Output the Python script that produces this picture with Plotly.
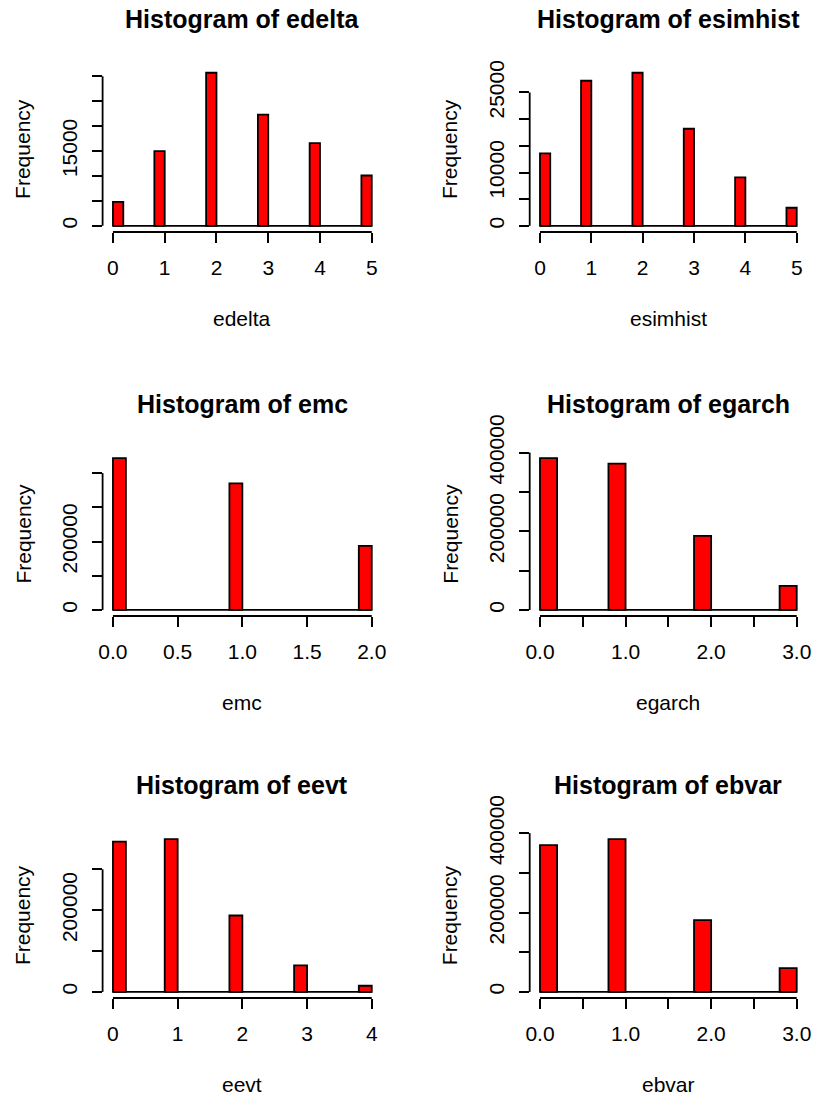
import numpy as np
import plotly.graph_objects as go

# ---- data: counts per observed value (one array per variable) ----
edelta_counts = [48000, 150000, 307000, 223000, 166000, 101000]
esimhist_counts = [136000, 272000, 287000, 182000, 91000, 34000]
emc_counts = [444000, 370000, 187000]
egarch_counts = [386000, 372000, 188000, 61000]
eevt_counts = [368000, 374000, 187000, 65000, 15000]
ebvar_counts = [370000, 385000, 181000, 60000]

# histogram bin widths
edelta_binwidth = 0.2
esimhist_binwidth = 0.2
emc_binwidth = 0.1
egarch_binwidth = 0.2
eevt_binwidth = 0.2
ebvar_binwidth = 0.2

# tick values and labels
edelta_xticks = [0, 1, 2, 3, 4, 5]
edelta_xlabels = ["0", "1", "2", "3", "4", "5"]
edelta_yticks = [0, 50000, 100000, 150000, 200000, 250000, 300000]
edelta_ylabels = ["0", "", "", "15000", "", "", ""]

esimhist_xticks = [0, 1, 2, 3, 4, 5]
esimhist_xlabels = ["0", "1", "2", "3", "4", "5"]
esimhist_yticks = [0, 50000, 100000, 150000, 200000, 250000]
esimhist_ylabels = ["0", "", "10000", "", "", "25000"]

emc_xticks = [0, 0.5, 1, 1.5, 2]
emc_xlabels = ["0.0", "0.5", "1.0", "1.5", "2.0"]
emc_yticks = [0, 100000, 200000, 300000, 400000]
emc_ylabels = ["0", "", "200000", "", ""]

egarch_xticks = [0, 0.5, 1, 1.5, 2, 2.5, 3]
egarch_xlabels = ["0.0", "", "1.0", "", "2.0", "", "3.0"]
egarch_yticks = [0, 100000, 200000, 300000, 400000]
egarch_ylabels = ["0", "", "200000", "", "400000"]

eevt_xticks = [0, 1, 2, 3, 4]
eevt_xlabels = ["0", "1", "2", "3", "4"]
eevt_yticks = [0, 100000, 200000, 300000]
eevt_ylabels = ["0", "", "200000", ""]

ebvar_xticks = [0, 0.5, 1, 1.5, 2, 2.5, 3]
ebvar_xlabels = ["0.0", "", "1.0", "", "2.0", "", "3.0"]
ebvar_yticks = [0, 100000, 200000, 300000, 400000]
ebvar_ylabels = ["0", "", "200000", "", "400000"]

panels = [
    ("edelta", edelta_counts, edelta_binwidth, edelta_xticks, edelta_xlabels, edelta_yticks, edelta_ylabels),
    ("esimhist", esimhist_counts, esimhist_binwidth, esimhist_xticks, esimhist_xlabels, esimhist_yticks, esimhist_ylabels),
    ("emc", emc_counts, emc_binwidth, emc_xticks, emc_xlabels, emc_yticks, emc_ylabels),
    ("egarch", egarch_counts, egarch_binwidth, egarch_xticks, egarch_xlabels, egarch_yticks, egarch_ylabels),
    ("eevt", eevt_counts, eevt_binwidth, eevt_xticks, eevt_xlabels, eevt_yticks, eevt_ylabels),
    ("ebvar", ebvar_counts, ebvar_binwidth, ebvar_xticks, ebvar_xlabels, ebvar_yticks, ebvar_ylabels),
]

# ---- layout geometry (pixels) ----
W, H = 813, 1097
col_px = [(102.6, 382.1), (529.7, 807.0)]
row_px = [(66.6, 232.0), (452.0, 616.0), (833.0, 998.0)]
FONT = "Liberation Sans, Arial, sans-serif"
RED = "#FF0000"
LW = 1.8


def px_x(p):
    return p / W


def px_y(p):
    return 1 - p / H


fig = go.Figure()
layout = dict(
    width=W, height=H,
    margin=dict(l=0, r=0, t=0, b=0, pad=0, autoexpand=False),
    paper_bgcolor="white", plot_bgcolor="white",
    showlegend=False,
    font=dict(family=FONT, color="black"),
)
shapes = []
annotations = []

for i, (name, counts, bw, xt, xl, yt, yl) in enumerate(panels):
    r, c = divmod(i, 2)
    xa = "xaxis" if i == 0 else f"xaxis{i + 1}"
    ya = "yaxis" if i == 0 else f"yaxis{i + 1}"
    xr = "x" if i == 0 else f"x{i + 1}"
    yr = "y" if i == 0 else f"y{i + 1}"

    counts = np.asarray(counts, dtype=float)
    values = np.arange(len(counts))
    # right-closed bins: value k falls in (k - bw, k], value 0 in [0, bw]
    left = np.where(values == 0, 0.0, values - bw)
    centers = left + bw / 2
    breaks_lo, breaks_hi = 0.0, float(values[-1])

    # baseline formed by the empty bins
    fig.add_trace(go.Scatter(
        x=[breaks_lo, breaks_hi], y=[0, 0], mode="lines",
        line=dict(color="black", width=LW), hoverinfo="skip",
        xaxis=xr, yaxis=yr,
    ))
    fig.add_trace(go.Bar(
        x=centers, y=counts, width=bw,
        marker=dict(color=RED, line=dict(color="black", width=LW)),
        xaxis=xr, yaxis=yr,
    ))

    xspan = breaks_hi - breaks_lo
    ymax = counts.max()
    x0p, x1p = col_px[c]
    y0p, y1p = row_px[r]

    layout[xa] = dict(
        domain=[px_x(x0p), px_x(x1p)], anchor=yr,
        range=[breaks_lo - 0.04 * xspan, breaks_hi + 0.04 * xspan],
        tickvals=xt, ticktext=xl,
        ticks="outside", ticklen=10, tickwidth=LW, tickcolor="black",
        showline=False, showgrid=False, zeroline=False, automargin=False,
        tickfont=dict(size=21, family=FONT, color="black"),
        ticklabelstandoff=7,
    )
    layout[ya] = dict(
        domain=[px_y(y1p), px_y(y0p)], anchor=xr,
        range=[-0.04 * ymax, 1.04 * ymax],
        tickvals=yt, ticktext=yl, tickangle=-90,
        ticks="outside", ticklen=10, tickwidth=LW, tickcolor="black",
        showline=False, showgrid=False, zeroline=False, automargin=False,
        tickfont=dict(size=21, family=FONT, color="black"),
        ticklabelstandoff=6,
    )

    # axis lines spanning only the tick range
    shapes.append(dict(type="line", xref=xr, yref=f"{yr} domain",
                       x0=xt[0], x1=xt[-1], y0=0, y1=0,
                       line=dict(color="black", width=LW)))
    shapes.append(dict(type="line", xref=f"{xr} domain", yref=yr,
                       x0=0, x1=0, y0=yt[0], y1=yt[-1],
                       line=dict(color="black", width=LW)))

    cx = (x0p + x1p) / 2
    annotations.append(dict(
        text=f"<b>Histogram of {name}</b>", xref="paper", yref="paper",
        x=px_x(cx), y=px_y(y0p - 47.6), xanchor="center", yanchor="middle",
        showarrow=False, font=dict(size=25, family=FONT, color="black"),
    ))
    annotations.append(dict(
        text=name, xref="paper", yref="paper",
        x=px_x(cx), y=px_y(y1p + 86.5), xanchor="center", yanchor="middle",
        showarrow=False, font=dict(size=21, family=FONT, color="black"),
    ))
    annotations.append(dict(
        text="Frequency", xref="paper", yref="paper",
        x=px_x(x0p - 80), y=px_y((y0p + y1p) / 2), xanchor="center", yanchor="middle",
        textangle=-90, showarrow=False, font=dict(size=21, family=FONT, color="black"),
    ))

layout["shapes"] = shapes
layout["annotations"] = annotations
fig.update_layout(**layout)

fig.write_html("out.html")
